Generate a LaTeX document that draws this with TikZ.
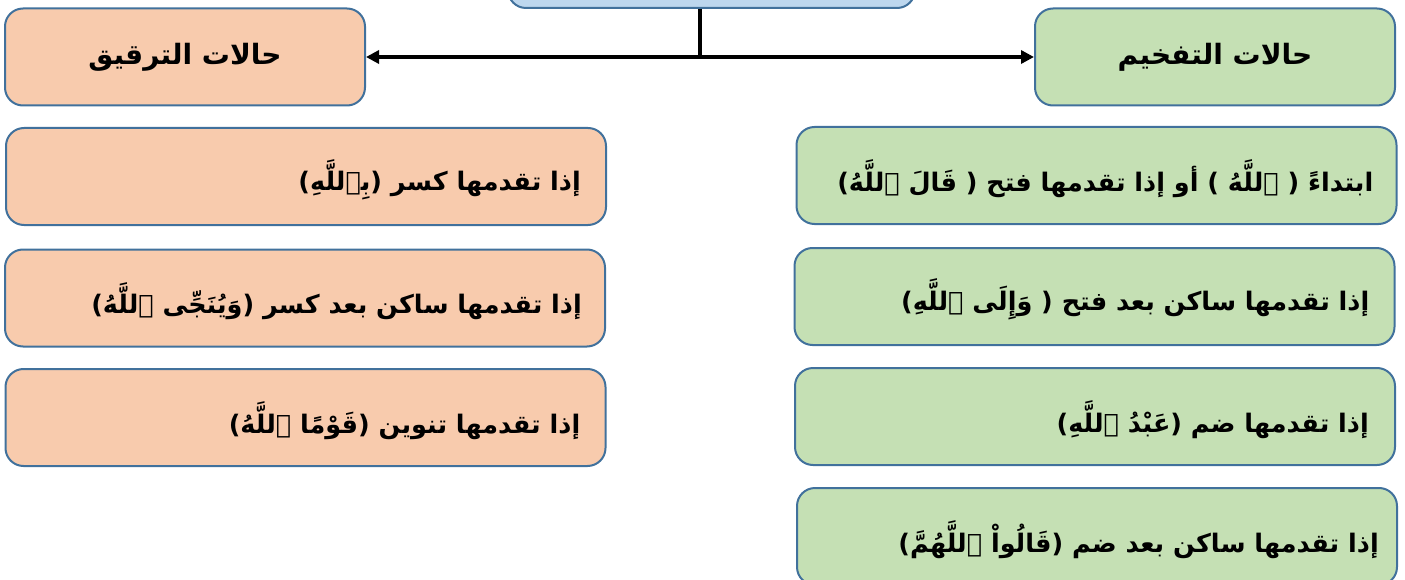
\documentclass[tikz,border=0pt]{standalone}
\usepackage{fontspec}
\TeXXeTstate=1
\newfontfamily\arabicfont[Script=Arabic]{DejaVu Sans}
\usetikzlibrary{arrows.meta}
\definecolor{bord}{HTML}{41719C}
\definecolor{peach}{HTML}{F8CBAD}
\definecolor{grn}{HTML}{C5E0B4}
\definecolor{blu}{HTML}{BDD7EE}
\begin{document}
\begin{tikzpicture}[x=1pt,y=-1pt,
  box/.style={draw=bord, line width=2pt, rounded corners=18pt, inner sep=0pt},
  head/.style={box, minimum width=360pt, minimum height=97pt},
  item/.style={box, minimum width=600pt, minimum height=97pt},
  headtxt/.style={font=\arabicfont\bfseries\fontsize{28}{34}\selectfont},
  itemtxt/.style={font=\arabicfont\bfseries\fontsize{25.5}{30}\selectfont, anchor=east, inner sep=0pt},
  conn/.style={line width=4pt, black}
]
\useasboundingbox (0,0) rectangle (1405,580);
% top box
\node[box, fill=blu, minimum width=407pt, minimum height=60pt, anchor=south] (top) at (711.5,9) {};
% headers
\node[head, fill=peach] (lh) at (185,57) {};
\node[headtxt] at (lh.center) {\beginR حالات الترقيق\endR};
\node[head, fill=grn] (rh) at (1215,57) {};
\node[headtxt] at (rh.center) {\beginR حالات التفخيم\endR};
% connectors
\coordinate (j) at (700,57);
\draw[conn] (j |- top.south) -- (j);
\draw[conn, -{Triangle[length=13pt,width=13pt]}] (j) -- (lh.east);
\draw[conn, -{Triangle[length=13pt,width=13pt]}] (j) -- (rh.west);
% left items
\node[item, fill=peach] (l1) at (306,176.5) {};
\node[itemtxt] at ([xshift=-26pt,yshift=-3pt]l1.east) {\beginR إذا تقدمها كسر (بِٱللَّهِ)\endR};
\node[item, fill=peach] (l2) at (305,298) {};
\node[itemtxt] at ([xshift=-24pt,yshift=-3pt]l2.east) {\beginR إذا تقدمها ساكن بعد كسر (وَيُنَجِّى ٱللَّهُ)\endR};
\node[item, fill=peach] (l3) at (305.5,417.5) {};
\node[itemtxt] at ([xshift=-26pt,yshift=-3pt]l3.east) {\beginR إذا تقدمها تنوين (قَوْمًا ٱللَّهُ)\endR};
% right items
\node[item, fill=grn] (r1) at (1096.5,175.5) {};
\node[itemtxt] at ([xshift=-24pt,yshift=-3pt]r1.east) {\beginR ابتداءً ( ٱللَّهُ ) أو إذا تقدمها فتح ( قَالَ ٱللَّهُ)\endR};
\node[item, fill=grn] (r2) at (1094.5,296.5) {};
\node[itemtxt] at ([xshift=-26pt,yshift=-3pt]r2.east) {\beginR إذا تقدمها ساكن بعد فتح ( وَإِلَى ٱللَّهِ)\endR};
\node[item, fill=grn] (r3) at (1095,416.5) {};
\node[itemtxt] at ([xshift=-27pt,yshift=-3pt]r3.east) {\beginR إذا تقدمها ضم (عَبْدُ ٱللَّهِ)\endR};
\node[item, fill=grn] (r4) at (1097,536.5) {};
\node[itemtxt] at ([xshift=-19pt,yshift=-3pt]r4.east) {\beginR إذا تقدمها ساكن بعد ضم (قَالُواْ ٱللَّهُمَّ)\endR};
\end{tikzpicture}
\end{document}
